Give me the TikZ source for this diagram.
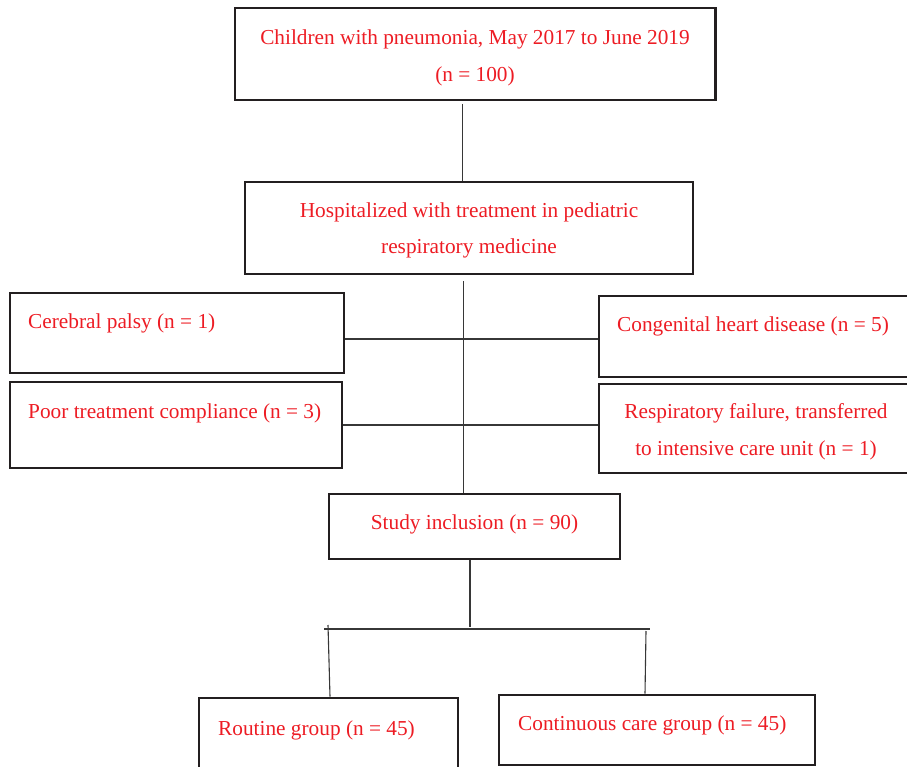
\documentclass[tikz,border=0pt]{standalone}
\usepackage{fontspec}
\setmainfont{Liberation Serif}
\usetikzlibrary{calc}
\definecolor{txtred}{RGB}{237,28,36}
\definecolor{boxline}{RGB}{35,31,32}
\definecolor{connline}{RGB}{55,55,55}
\begin{document}
\begin{tikzpicture}[x=1pt,y=-1pt,
  box/.style={draw=boxline,line width=2.6pt,rectangle,inner sep=0pt},
  conn/.style={draw=connline,line width=1.1pt},
  txt/.style={text=txtred,font=\fontsize{21.3}{36.5}\selectfont,inner sep=0pt,align=center}]
\useasboundingbox (0,0) rectangle (907,767);
\clip (0,0) rectangle (907,767);
% boxes
\node[box,minimum width=480.5pt,minimum height=92pt] (b1) at (475.25,54) {};
\node[box,minimum width=448pt,minimum height=92pt] (b2) at (469,228) {};
\node[box,minimum width=334pt,minimum height=80pt] (cp) at (177,333) {};
\node[box,minimum width=332pt,minimum height=86pt] (pt) at (176,425) {};
\node[box,minimum width=313pt,minimum height=81pt] (ch) at (755.5,336.5) {};
\node[box,minimum width=313pt,minimum height=89pt] (rf) at (755.5,428.5) {};
\node[box,minimum width=291pt,minimum height=65pt] (si) at (474.5,526.5) {};
\node[box,minimum width=259pt,minimum height=77pt] (rg) at (328.5,736.5) {};
\node[box,minimum width=316pt,minimum height=70pt] (cc) at (657,730) {};
% texts (base = baseline of the last line)
\node[txt,anchor=base] (t1) at (475,81.5) {Children with pneumonia, May 2017 to June 2019\\(n = 100)};
\node[txt,anchor=base] (t2) at (469,254) {Hospitalized with treatment in pediatric\\respiratory medicine};
\node[txt,anchor=base west] (t3) at (28,328) {Cerebral palsy (n = 1)};
\node[txt,anchor=base west] (t4) at (28,418) {Poor treatment compliance (n = 3)};
\node[txt,anchor=base] (t5) at (753,331) {Congenital heart disease (n = 5)};
\node[txt,anchor=base] (t6) at (756,455) {Respiratory failure, transferred\\to intensive care unit (n = 1)};
\node[txt,anchor=base] (t7) at (474.5,529) {Study inclusion (n = 90)};
\node[txt,anchor=base west] (t8) at (218,735) {Routine group (n = 45)};
\node[txt,anchor=base west] (t9) at (518,730) {Continuous care group (n = 45)};
% connector coordinates
\coordinate (c1) at (462.5,104);
\coordinate (sp) at (463.7,281);
\coordinate (h1) at (0,339);
\coordinate (h2) at (0,425);
\coordinate (sd) at (470,627);
\coordinate (hl) at (324,629);
\coordinate (hr) at (650,629);
\coordinate (ld) at (328,625);
\coordinate (ldb) at (330,0);
\coordinate (rd) at (646,631);
\coordinate (rdb) at (645,0);
% connectors
\draw[conn] (c1) -- (c1 |- b2.north);
\draw[conn] (sp) -- (sp |- si.north);
\draw[conn] (cp.east |- h1) -- (ch.west |- h1);
\draw[conn] (pt.east |- h2) -- (rf.west |- h2);
\draw[conn] (si.south -| sd) -- (sd);
\draw[conn] (hl) -- (hr);
\draw[conn] (ld) -- (rg.north -| ldb);
\draw[conn] (rd) -- (cc.north -| rdb);
\end{tikzpicture}
\end{document}
